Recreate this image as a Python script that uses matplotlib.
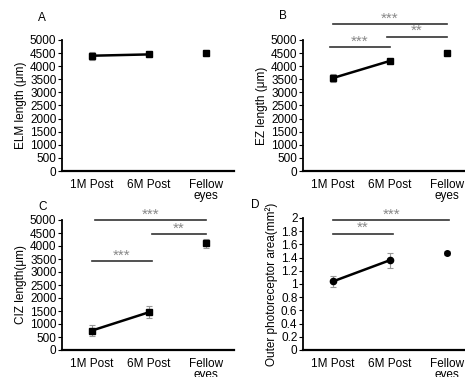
import numpy as np
import matplotlib.pyplot as plt

plt.rcParams['font.family'] = ['Liberation Sans', 'DejaVu Sans']
plt.rcParams['font.size'] = 8.5

groups = ["1M Post", "6M Post", "Fellow\neyes"]
xpos = [1, 2, 3]

# panel data: means and error bars
elm_mean = [4400, 4450, 4500]
elm_err = [150, 80, 100]
ez_mean = [3550, 4200, 4500]
ez_err = [150, 50, 50]
ciz_mean = [750, 1450, 4100]
ciz_err = [230, 230, 180]
opa_mean = [1.04, 1.36, 1.47]
opa_err = [0.08, 0.11, 0.03]

# significance brackets: (x1, x2, y, label)
ez_sig = [(0.95, 2, 4730, "***"), (1.95, 3, 5120, "**"), (1, 3, 5610, "***")]
ciz_sig = [(1, 2.05, 3420, "***"), (2.05, 3, 4460, "**"), (1.05, 3, 4990, "***")]
opa_sig = [(1, 2.05, 1.76, "**"), (1, 3.05, 1.97, "***")]

fig = plt.figure(figsize=(4.65, 3.77), dpi=100)

W = 172 / 465
H = 131 / 377
axA = fig.add_axes([62 / 465, 1 - 171 / 377, W, H])
axB = fig.add_axes([303 / 465, 1 - 171 / 377, W, H])
axC = fig.add_axes([62 / 465, 1 - 350 / 377, W, 130 / 377])
axD = fig.add_axes([303 / 465, 1 - 350 / 377, W, 132 / 377])


def draw(ax, mean, err, ylabel, ymax, step, marker, sig, letter, lpos, fmt):
    ax.errorbar(xpos[:2], mean[:2], yerr=err[:2], color='black', lw=1.8,
                marker=marker, ms=4.5, ecolor='#999999', elinewidth=0.8,
                capsize=2, capthick=0.8)
    ax.errorbar(xpos[2:], mean[2:], yerr=err[2:], color='black', lw=0,
                marker=marker, ms=4, ecolor='#999999', elinewidth=0.8,
                capsize=2, capthick=0.8)
    ax.set_xlim(0.47, 3.5)
    ax.set_ylim(0, ymax)
    ticks = np.arange(0, ymax + step / 2, step)
    ax.set_yticks(ticks)
    ax.set_yticklabels([fmt(t) for t in ticks])
    ax.set_xticks(xpos)
    ax.set_xticklabels(groups, linespacing=0.9)
    ax.tick_params(axis='x', length=0, pad=6)
    ax.tick_params(axis='y', length=3, width=0.8, pad=1)
    ax.spines['top'].set_visible(False)
    ax.spines['right'].set_visible(False)
    ax.spines['left'].set_linewidth(1.3)
    ax.spines['bottom'].set_linewidth(1.6)
    ax.set_ylabel(ylabel, labelpad=2)
    for x1, x2, y, lab in sig:
        ax.plot([x1, x2], [y, y], color='#333333', lw=1.2, clip_on=False)
        ax.annotate(lab, ((x1 + x2) / 2, y), xytext=(0, 1.2),
                    textcoords='offset points', ha='center', va='baseline',
                    color='#888888', fontsize=11, annotation_clip=False)
    ax.text(lpos[0], lpos[1], letter, transform=ax.transAxes, fontsize=8.5,
            va='center')


def fmt_int(t):
    return "%d" % t


def fmt_dec(t):
    return "%g" % round(t, 1)


draw(axA, elm_mean, elm_err, "ELM length (\u03bcm)", 5000, 500, 's', [], "A",
     (-0.14, 1.17), fmt_int)
draw(axB, ez_mean, ez_err, "EZ length (\u03bcm)", 5000, 500, 's', ez_sig, "B",
     (-0.14, 1.18), fmt_int)
draw(axC, ciz_mean, ciz_err, "CIZ length(\u03bcm)", 5000, 500, 's', ciz_sig, "C",
     (-0.14, 1.1), fmt_int)
draw(axD, opa_mean, opa_err, "Outer photoreceptor area(mm\u00b2)", 2, 0.2, 'o',
     opa_sig, "D", (-0.3, 1.1), fmt_dec)

fig.savefig("out.png", dpi=100)
